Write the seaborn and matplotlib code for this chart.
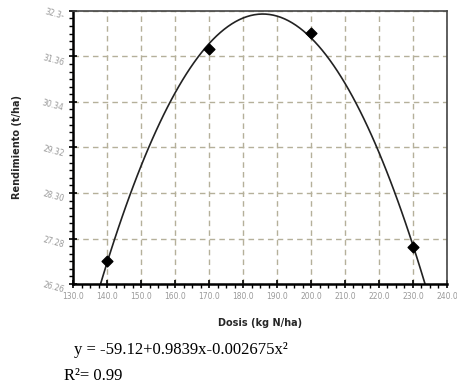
import numpy as np
import pandas as pd
import seaborn as sns
import matplotlib.pyplot as plt
from matplotlib.ticker import AutoMinorLocator

# values
dosis = [140, 170, 200, 230]
rendimiento = [26.78, 31.53, 31.89, 27.09]
x_ticks = [130.0, 140.0, 150.0, 160.0, 170.0, 180.0, 190.0, 200.0, 210.0, 220.0, 230.0, 240.0]
y_ticks = [26.26, 27.28, 28.30, 29.32, 30.34, 31.36, 32.38]
y_tick_labels = ["26.26", "27.28", "28.30", "29.32", "30.34", "31.36", "32.3-"]
equation = "y = -59.12+0.9839x-0.002675x²"
r2 = "R²= 0.99"

df = pd.DataFrame({"dosis": dosis, "rendimiento": rendimiento})

sns.set_theme(style="white")
fig = plt.figure(figsize=(4.57, 3.87), dpi=100)
ax = fig.add_axes([0.160, 0.266, 0.818, 0.706])
ax.set_xlim(x_ticks[0], x_ticks[-1])
ax.set_ylim(y_ticks[0], y_ticks[-1])

# quadratic fit drawn by seaborn over the full x range
sns.regplot(data=df, x="dosis", y="rendimiento", order=2, ci=None, truncate=False,
            ax=ax, color="black", marker="D",
            scatter_kws={"s": 30, "color": "black", "alpha": 1, "zorder": 5},
            line_kws={"linewidth": 1.2, "color": "#222222"})

ax.set_xlim(x_ticks[0], x_ticks[-1])
ax.set_ylim(y_ticks[0], y_ticks[-1])
ax.set_xticks(x_ticks)
ax.set_xticklabels([f"{v:.1f}" for v in x_ticks])
ax.set_yticks(y_ticks)
ax.set_yticklabels(y_tick_labels)
ax.xaxis.set_minor_locator(AutoMinorLocator(4))
ax.yaxis.set_minor_locator(AutoMinorLocator(6))
ax.tick_params(axis="both", which="major", direction="inout", length=6, width=1.2,
               labelsize=5.5, labelcolor="#9a9a9a", color="black", pad=3,
               bottom=True, left=True)
ax.tick_params(axis="both", which="minor", direction="out", length=3, width=1.0,
               color="black", bottom=True, left=True)
for lbl in ax.get_yticklabels():
    lbl.set_rotation(-15)

ax.grid(True, which="major", linestyle=(0, (4, 3)), color="#b5b09a", linewidth=1.0)
ax.set_axisbelow(True)
for side in ["left", "bottom"]:
    ax.spines[side].set_color("black")
    ax.spines[side].set_linewidth(1.8)
for side in ["top", "right"]:
    ax.spines[side].set_color("#444444")
    ax.spines[side].set_linewidth(1.2)

ax.set_xlabel("Dosis (kg N/ha)", fontsize=7, fontweight="bold", labelpad=12)
ax.set_ylabel("Rendimiento (t/ha)", fontsize=7, fontweight="bold", labelpad=14)

fig.text(0.162, 0.085, equation, fontsize=12, family="Liberation Serif", color="black")
fig.text(0.140, 0.018, r2, fontsize=12, family="Liberation Serif", color="black")

fig.savefig("out.png", dpi=100)
